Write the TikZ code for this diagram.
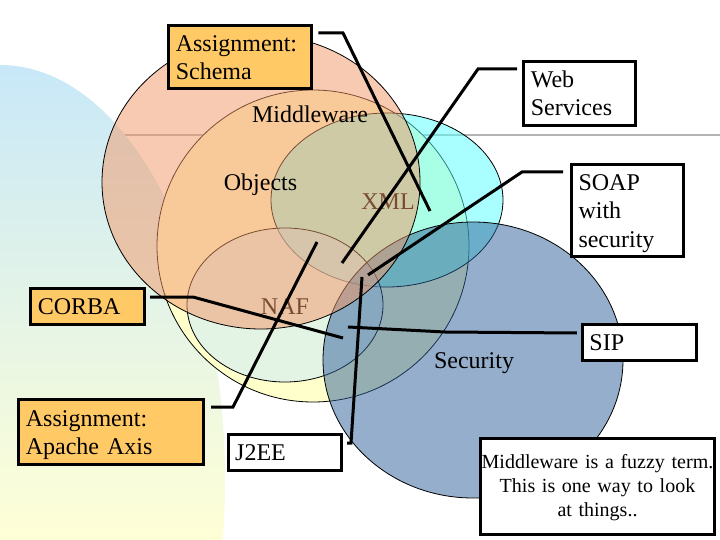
\documentclass[tikz,border=0pt]{standalone}
\usepackage{fontspec}
\setmainfont{Liberation Serif}
\definecolor{bgtop}{RGB}{200,232,248}
\definecolor{bgbot}{RGB}{255,255,214}
\definecolor{linegray}{RGB}{180,180,180}
\definecolor{Byellow}{RGB}{255,255,204}
\definecolor{Dcyan}{RGB}{85,255,255}
\definecolor{Fblue}{RGB}{201,233,252}
\definecolor{Esteel}{RGB}{45,95,153}
\definecolor{Asalmon}{RGB}{243,151,103}
\definecolor{boxorange}{RGB}{255,201,102}
\tikzset{
  region/.style={draw=black, line width=0.8pt, fill opacity=0.5},
  conn/.style={draw=black, line width=3pt, line join=miter},
  callout/.style={draw=black, line width=3pt, inner xsep=7pt, inner ysep=0pt,
    align=left, font=\fontsize{24}{28.3}\selectfont, text height=15.9pt, text depth=0pt},
  lines2/.style={text depth=28.3pt},
  lines3/.style={text depth=56.6pt},
  orangebox/.style={callout, fill=boxorange},
  whitebox/.style={callout, fill=white},
  lbl/.style={font=\fontsize{24}{28.3}\selectfont, inner sep=0pt, anchor=base},
}
\begin{document}
\begin{tikzpicture}[x=1pt,y=-1pt]
\useasboundingbox (0,0) rectangle (720,540);
\fill[white] (0,0) rectangle (720,540);
% slide rule line
\draw[line width=1.6pt, linegray] (0,135) -- (720,135);
% background shape
\begin{scope}
  \clip (0,480) ellipse [x radius=225pt, y radius=415pt];
  \shade[top color=bgtop, bottom color=bgbot] (0,65) rectangle (240,540);
\end{scope}
% circles
\filldraw[fill=Byellow, draw=black, line width=0.8pt] (313,246) circle [radius=156pt];
\filldraw[region, fill=Dcyan] (387,200) ellipse [x radius=116pt, y radius=87pt];
\filldraw[region, fill=Fblue] (285,305) ellipse [x radius=98pt, y radius=77pt];
\filldraw[region, fill=Esteel] (473,360) ellipse [x radius=150pt, y radius=138pt];
\node[lbl] (xml) at (388,210) {XML};
\node[lbl] (naf) at (285,314) {NAF};
\filldraw[region, fill=Asalmon] (261,182) ellipse [x radius=159pt, y radius=147pt];
\node[lbl] (mid) at (310,122.7) {Middleware};
\node[lbl] (obj) at (260.5,190.7) {Objects};
\node[lbl] (sec) at (474,368.7) {Security};
% callout boxes
\node[orangebox, lines2, minimum width=143pt, text width=129pt, minimum height=63.3pt] (schema) at (240.3,57.3) {Assignment:\\Schema};
\node[whitebox, lines2, minimum width=112pt, text width=98pt, minimum height=63.7pt] (web) at (579.8,93.3) {Web\\Services};
\node[whitebox, lines3, minimum width=112pt, text width=98pt, minimum height=92pt] (soap) at (627.5,210.8) {SOAP\\with\\security};
\node[orangebox, minimum width=113.4pt, text width=99.4pt, minimum height=35.7pt] (corba) at (87.5,306.7) {CORBA};
\node[orangebox, lines2, minimum width=184.7pt, text width=170.7pt, minimum height=64.7pt] (axis) at (111.2,432.2) {Assignment:\\Apache Axis};
\node[whitebox, minimum width=113.6pt, text width=99.6pt, minimum height=36pt] (j2ee) at (285,452.8) {J2EE};
\node[whitebox, minimum width=113.7pt, text width=99.7pt, minimum height=36pt] (sip) at (639.3,342.8) {SIP};
\node[whitebox, align=center, font=\fontsize{20}{24}\selectfont, inner xsep=0pt, text height=13.2pt, text depth=48pt, minimum width=234pt, text width=234pt, minimum height=96pt] (note) at (597.5,486.2) {Middleware is a fuzzy term.\\This is one way to look\\at things..};
% connector points
\coordinate (schB) at (343,33);   \coordinate (schE) at (430,211);
\coordinate (webB) at (478,69);   \coordinate (webE) at (342,263);
\coordinate (soapB) at (522,172); \coordinate (soapE) at (368,275);
\coordinate (corB) at (193,297);  \coordinate (corE) at (343,338);
\coordinate (axB) at (233,407);   \coordinate (axE) at (317,242);
\coordinate (jB) at (351,443);    \coordinate (jE) at (362,277);
\coordinate (sipB) at (445,332);  \coordinate (sipE) at (348,327);
% connectors
\draw[conn] ([shift={(5,8.8)}]schema.north east) -- (schB) -- (schE);
\draw[conn] ([shift={(-5.3,9)}]web.north west) -- (webB) -- (webE);
\draw[conn] ([shift={(-7,8.7)}]soap.north west) -- (soapB) -- (soapE);
\draw[conn] ([shift={(4.3,9.65)}]corba.north east) -- (corB) -- (corE);
\draw[conn] ([shift={(6,8.65)}]axis.north east) -- (axB) -- (axE);
\draw[conn] ([shift={(3.7,9.7)}]j2ee.north east) -- (jB) -- (jE);
\draw[conn] ([shift={(-4,9.7)}]sip.north west) -- (sipB) -- (sipE);
\end{tikzpicture}
\end{document}
